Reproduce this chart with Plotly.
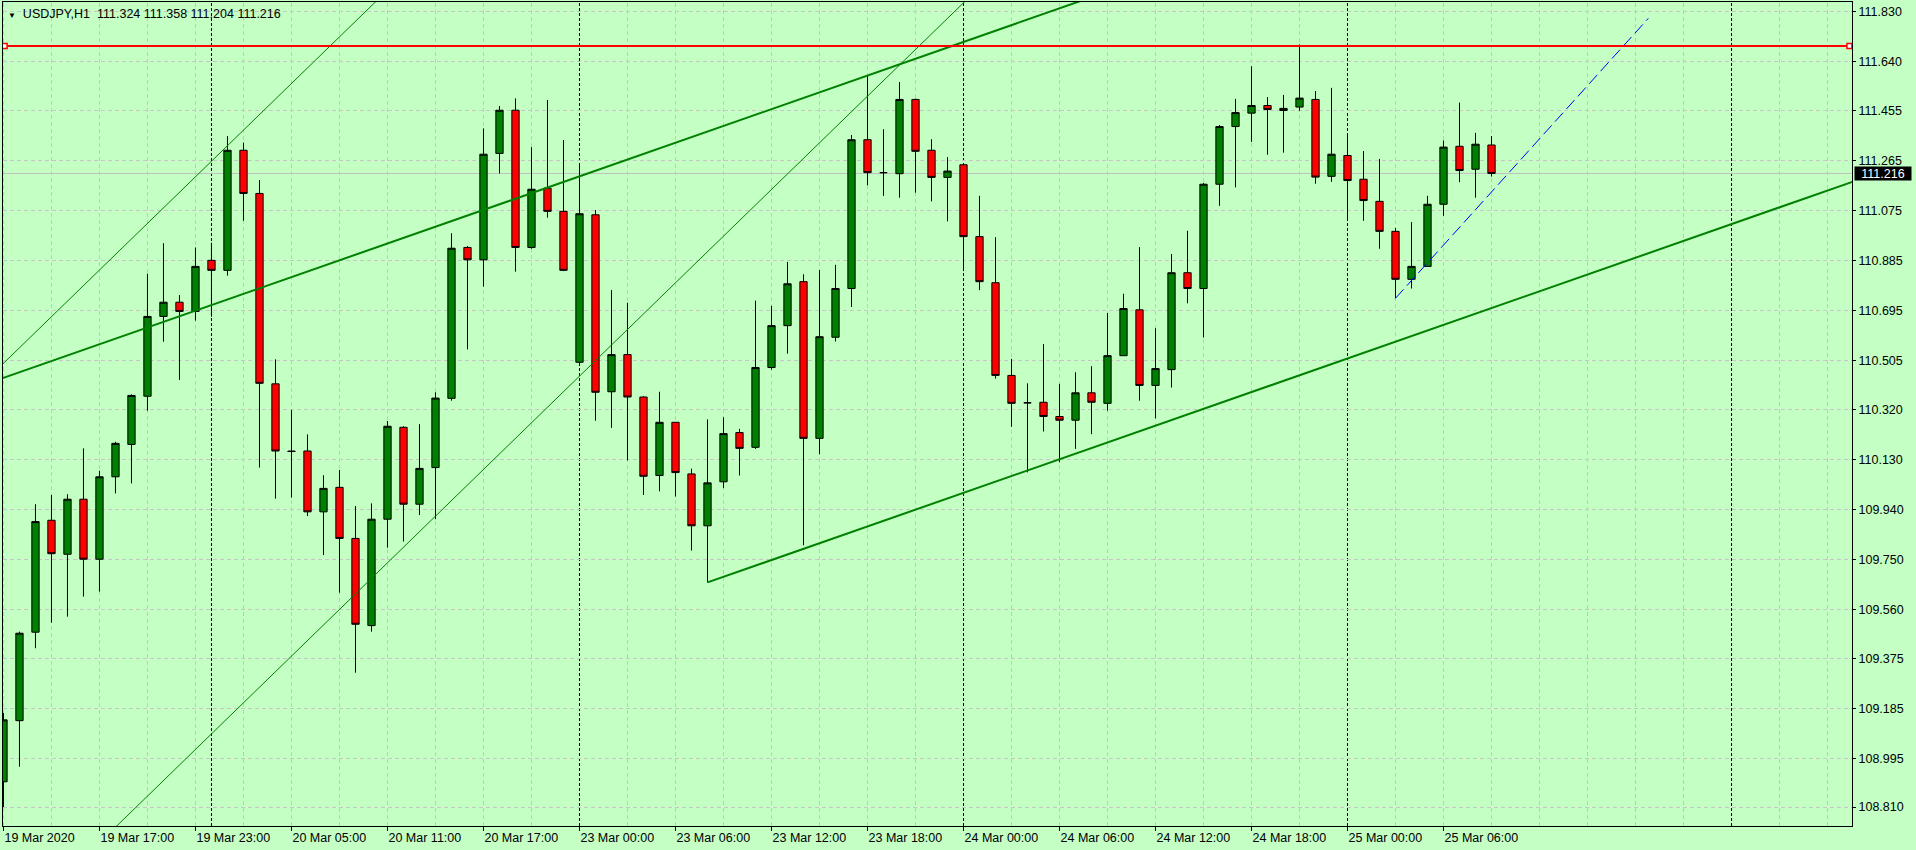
import plotly.graph_objects as go

# --- USDJPY, H1 : values ---
x_labels = ["19 Mar 2020", "19 Mar 17:00", "19 Mar 23:00", "20 Mar 05:00", "20 Mar 11:00",
            "20 Mar 17:00", "23 Mar 00:00", "23 Mar 06:00", "23 Mar 12:00", "23 Mar 18:00",
            "24 Mar 00:00", "24 Mar 06:00", "24 Mar 12:00", "24 Mar 18:00", "25 Mar 00:00",
            "25 Mar 06:00"]
label_every = 6                       # a time label every 6 bars
grid_every = 3                        # a vertical grid line every 3 bars
day_breaks = [13, 36, 60, 84, 108]    # bar index where a new day starts

price_labels = ["111.830", "111.640", "111.455", "111.265", "111.075", "110.885", "110.695",
                "110.505", "110.320", "110.130", "109.940", "109.750", "109.560", "109.375",
                "109.185", "108.995", "108.810"]

opens = [108.906, 109.138, 109.474, 109.899, 109.770, 109.979, 109.751, 110.064, 110.187, 110.370,
         110.673, 110.727, 110.692, 110.886, 110.848, 111.304, 111.140, 110.417, 110.162, 110.162,
         109.931, 110.024, 109.830, 109.499, 109.903, 110.252, 109.960, 110.099, 110.362, 110.935,
         110.888, 111.292, 111.456, 110.935, 111.160, 111.072, 110.499, 111.059, 110.387, 110.528,
         110.367, 110.069, 110.271, 110.075, 109.878, 110.045, 110.232, 110.176, 110.479, 110.638,
         110.805, 110.210, 110.594, 110.779, 111.344, 111.219, 111.215, 111.497, 111.304, 111.201,
         111.249, 110.976, 110.801, 110.449, 110.345, 110.347, 110.293, 110.279, 110.383, 110.343,
         110.524, 110.698, 110.411, 110.471, 110.839, 110.779, 111.175, 111.394, 111.445, 111.474,
         111.455, 111.468, 111.497, 111.205, 111.284, 111.194, 111.110, 110.996, 110.814, 110.863,
         111.099, 111.319, 111.232, 111.324]
highs = [109.167, 109.476, 109.960, 109.995, 109.998, 110.172, 110.087, 110.197, 110.377, 110.835,
         110.951, 110.754, 110.935, 110.953, 111.358, 111.333, 111.191, 110.510, 110.318, 110.225,
         110.070, 110.090, 109.953, 109.963, 110.276, 110.256, 110.264, 110.385, 110.989, 110.940,
         111.387, 111.472, 111.501, 111.316, 111.495, 111.343, 111.248, 111.077, 110.773, 110.725,
         110.370, 110.387, 110.272, 110.095, 110.282, 110.290, 110.246, 110.733, 110.713, 110.880,
         110.833, 110.849, 110.869, 111.362, 111.589, 111.384, 111.563, 111.500, 111.346, 111.278,
         111.250, 111.131, 110.974, 110.512, 110.419, 110.568, 110.417, 110.461, 110.484, 110.686,
         110.759, 110.936, 110.628, 110.910, 110.998, 111.180, 111.400, 111.499, 111.623, 111.506,
         111.514, 111.706, 111.529, 111.541, 111.366, 111.301, 111.271, 111.009, 111.031, 111.131,
         111.341, 111.485, 111.370, 111.358]
lows = [108.810, 108.963, 109.413, 109.510, 109.533, 109.609, 109.628, 110.001, 110.039, 110.315,
        110.577, 110.432, 110.657, 110.672, 110.828, 111.036, 110.099, 109.981, 109.985, 109.915,
        109.767, 109.624, 109.320, 109.476, 109.795, 109.818, 109.919, 109.903, 110.353, 110.548,
        110.786, 111.216, 110.843, 110.930, 111.048, 110.845, 110.488, 110.277, 110.250, 110.126,
        109.995, 110.009, 109.989, 109.784, 109.663, 110.021, 110.069, 110.170, 110.471, 110.532,
        109.804, 110.150, 110.578, 110.709, 111.171, 111.131, 111.124, 111.143, 111.110, 111.034,
        110.845, 110.773, 110.437, 110.254, 110.081, 110.236, 110.119, 110.170, 110.226, 110.315,
        110.524, 110.353, 110.286, 110.403, 110.723, 110.593, 111.093, 111.163, 111.336, 111.287,
        111.295, 111.454, 111.177, 111.184, 111.036, 111.036, 110.930, 110.742, 110.779, 110.863,
        111.055, 111.183, 111.124, 111.204]
closes = [109.141, 109.470, 109.894, 109.772, 109.979, 109.751, 110.064, 110.191, 110.373, 110.673,
          110.727, 110.692, 110.863, 110.848, 111.304, 111.140, 110.419, 110.162, 110.160, 109.931,
          110.020, 109.830, 109.504, 109.903, 110.256, 109.960, 110.096, 110.363, 110.932, 110.888,
          111.289, 111.456, 110.935, 111.156, 111.072, 110.848, 111.063, 110.385, 110.528, 110.367,
          110.066, 110.271, 110.080, 109.878, 110.041, 110.228, 110.172, 110.479, 110.638, 110.797,
          110.210, 110.596, 110.779, 111.344, 111.219, 111.219, 111.497, 111.300, 111.201, 111.225,
          110.976, 110.805, 110.449, 110.343, 110.345, 110.293, 110.279, 110.383, 110.347, 110.524,
          110.703, 110.411, 110.475, 110.839, 110.779, 111.175, 111.394, 111.447, 111.474, 111.459,
          111.463, 111.502, 111.202, 111.289, 111.189, 111.113, 110.996, 110.814, 110.863, 111.099,
          111.316, 111.227, 111.327, 111.216]

bid = 111.216
hline_price = 111.70

# drawn objects: (bar index, price) end points
channel_top_x, channel_top_y = [-0.22, 70], [110.435, 111.928]
channel_bot_x, channel_bot_y = [44, 115.6], [109.663, 111.185]
thin_a_x, thin_a_y = [-0.22, 30], [110.482, 112.266]
thin_b_x, thin_b_y = [0, 62], [108.320, 111.982]
blue_x, blue_y = [87, 102.8], [110.742, 111.805]

bars = list(range(len(opens)))
x_range = [-0.03, 115.53]
y_range = [108.738, 111.867]

bg = '#c4ffc4'
grid_color = '#c8c4c8'
font = dict(family='Liberation Sans, Arial, sans-serif', size=12.5, color='black')

fig = go.Figure()

# vertical grid (skipping the day separators, which are drawn in black)
for g in range(0, int(x_range[1]) + 1, grid_every):
    if g in day_breaks:
        continue
    fig.add_shape(type='line', x0=g, x1=g, y0=0, y1=1, xref='x', yref='paper', layer='below',
                  line=dict(color=grid_color, width=1, dash='4px,3px'))
for b in day_breaks:
    fig.add_shape(type='line', x0=b, x1=b, y0=0, y1=1, xref='x', yref='paper', layer='below',
                  line=dict(color='black', width=1, dash='3px,2px'))
fig.add_shape(type='line', x0=0, x1=1, y0=bid, y1=bid, xref='paper', yref='y', layer='below',
              line=dict(color='#c0c0c0', width=1))

fig.add_trace(go.Candlestick(
    x=bars, open=opens, high=highs, low=lows, close=closes,
    increasing=dict(line=dict(color='black', width=1), fillcolor='#008000'),
    decreasing=dict(line=dict(color='black', width=1), fillcolor='#ff0000'),
    whiskerwidth=0, showlegend=False))

fig.add_trace(go.Scatter(x=thin_a_x, y=thin_a_y, mode='lines', line=dict(color='#008000', width=1), showlegend=False))
fig.add_trace(go.Scatter(x=thin_b_x, y=thin_b_y, mode='lines', line=dict(color='#008000', width=1), showlegend=False))
fig.add_trace(go.Scatter(x=channel_top_x, y=channel_top_y, mode='lines', line=dict(color='#008000', width=2), showlegend=False))
fig.add_trace(go.Scatter(x=channel_bot_x, y=channel_bot_y, mode='lines', line=dict(color='#008000', width=2), showlegend=False))
fig.add_trace(go.Scatter(x=blue_x, y=blue_y, mode='lines', line=dict(color='#0000ff', width=1, dash='12px,5px'), showlegend=False))
fig.add_trace(go.Scatter(x=[x_range[0], x_range[1]], y=[hline_price, hline_price], mode='lines',
                         line=dict(color='#ff0000', width=2), showlegend=False))
fig.add_trace(go.Scatter(x=[x_range[0] + 0.1, x_range[1] - 0.16], y=[hline_price, hline_price], mode='markers',
                         marker=dict(symbol='square', size=5, color='white', line=dict(color='#ff0000', width=1.5)),
                         showlegend=False))

fig.update_xaxes(
    range=x_range, tickmode='array', automargin=False,
    tickvals=[i * label_every for i in range(len(x_labels))], ticktext=x_labels,
    ticks='outside', ticklen=4, tickcolor='black', ticklabelposition='outside right',
    showline=True, linecolor='black', linewidth=1, mirror=True,
    showgrid=False, zeroline=False, rangeslider_visible=False, tickfont=font)
fig.update_yaxes(
    range=y_range, side='right', tickmode='array', automargin=False,
    tickvals=[float(p) for p in price_labels], ticktext=price_labels,
    ticks='outside', ticklen=3, tickcolor='black',
    showline=True, linecolor='black', linewidth=1, mirror=True,
    showgrid=True, gridcolor=grid_color, gridwidth=1, griddash='4px,3px',
    zeroline=False, tickfont=font)

header = ('<span style="font-size:8px">▼</span>\u00a0 USDJPY,H1\u00a0\u00a0'
          f'{opens[-1]:.3f} {highs[-1]:.3f} {lows[-1]:.3f} {closes[-1]:.3f}')
fig.add_annotation(x=0, y=1, xref='paper', yref='paper', xanchor='left', yanchor='top',
                   xshift=3, yshift=-3, text=header, showarrow=False, font=font, align='left')
fig.add_annotation(x=1, y=bid, xref='paper', yref='y', xanchor='left', yanchor='middle',
                   xshift=2, text=f'{bid:.3f}', showarrow=False, bgcolor='black',
                   font=dict(family=font['family'], size=12.5, color='white'),
                   width=56, height=13, borderpad=0)

fig.update_layout(
    width=1916, height=850, autosize=False,
    margin=dict(l=3, r=64, t=2, b=24, autoexpand=False),
    plot_bgcolor=bg, paper_bgcolor=bg, boxgap=0.35,
    showlegend=False, hovermode=False)

# page body has a default 8px margin; drop it so the chart sits at the window corner
fig.write_html("out.html", config={'displayModeBar': False},
               post_script="document.body.style.margin='0';document.body.style.overflow='hidden';")
